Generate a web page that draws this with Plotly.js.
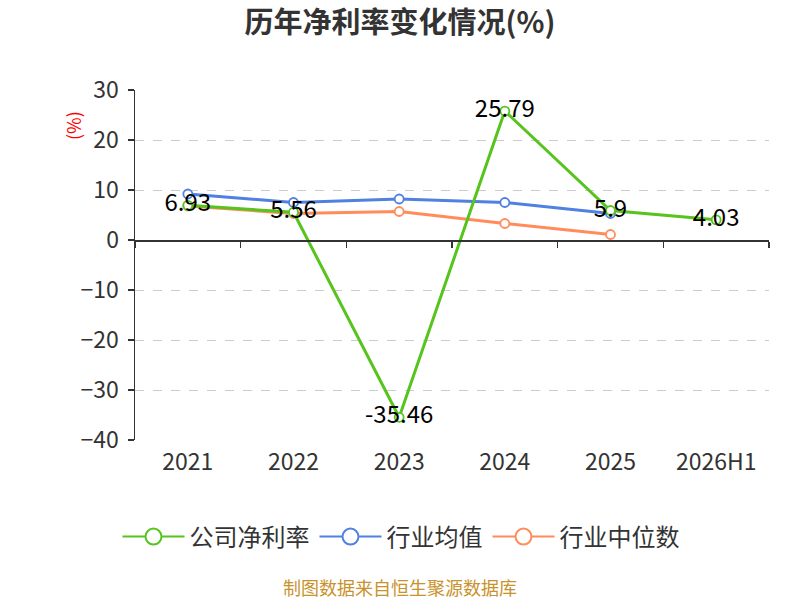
<!DOCTYPE html>
<html>
<head>
<meta charset="utf-8">
<script src="https://cdn.plot.ly/plotly-3.0.1.min.js"></script>
<style>
  html, body { margin: 0; padding: 0; background: #fff; }
  #chart { width: 800px; height: 600px; }
</style>
</head>
<body>
<div id="chart"></div>
<script>
// data
const years = ['2021', '2022', '2023', '2024', '2025', '2026H1'];
const companyMargin = [6.93, 5.56, -35.46, 25.79, 5.9, 4.03];
const industryMean = [9.2, 7.5, 8.2, 7.5, 5.3, null];
const industryMedian = [6.8, 5.3, 5.7, 3.3, 1.1, null];
const seriesNames = ['公司净利率', '行业均值', '行业中位数'];

const FONT = '"Noto Sans CJK SC", "Noto Sans", sans-serif';
const COLORS = { green: '#56c41d', blue: '#4f80e2', orange: '#ff8c5a' };

// plot area in pixels: x 135..769, y 90..440
const PLOT_L = 135, PLOT_W = 634, PLOT_B = 440, PLOT_H = 350;
const px = x => (x - PLOT_L) / PLOT_W;
const py = y => (PLOT_B - y) / PLOT_H;

function lineTrace(name, y, color, withText) {
  const t = {
    x: years, y, name, type: 'scatter',
    mode: withText ? 'lines+markers+text' : 'lines+markers',
    line: { color, width: 3 },
    marker: { symbol: 'circle', size: 9, color: '#fff', line: { color, width: 1.8 } },
    cliponaxis: false, showlegend: false,
    hoverinfo: 'skip',
  };
  if (withText) {
    t.text = y.map(v => v == null ? '' : String(v));
    t.textposition = 'middle center';
    t.textfont = { size: 24, family: FONT, color: '#000' };
  }
  return t;
}

// legend-only entries so the legend symbol can be drawn larger than the chart markers
function legendTrace(name, color) {
  return {
    x: [null], y: [null], name, type: 'scatter', mode: 'lines+markers',
    line: { color, width: 2 },
    marker: { symbol: 'circle', size: 16, color: '#fff', line: { color, width: 2 } },
    hoverinfo: 'skip',
  };
}

const traces = [
  lineTrace(seriesNames[1], industryMean, COLORS.blue, false),
  lineTrace(seriesNames[2], industryMedian, COLORS.orange, false),
  lineTrace(seriesNames[0], companyMargin, COLORS.green, true),
  legendTrace(seriesNames[0], COLORS.green),
  legendTrace(seriesNames[1], COLORS.blue),
  legendTrace(seriesNames[2], COLORS.orange),
  // carrier for the axis line drawn at y = 0
  { x: years, y: years.map(() => 0), xaxis: 'x2', type: 'scatter', mode: 'lines',
    line: { width: 0 }, opacity: 0, showlegend: false, hoverinfo: 'skip' },
];

const yMin = -40, yMax = 30;
const zeroPos = (0 - yMin) / (yMax - yMin);

const layout = {
  width: 800, height: 600,
  paper_bgcolor: '#fff', plot_bgcolor: '#fff',
  font: { family: FONT, color: '#333' },
  margin: { l: 135, r: 31, t: 90, b: 160 },
  title: {
    text: '<b>历年净利率变化情况(%)</b>',
    font: { size: 29, family: FONT, color: '#333' },
    x: 0.5, xanchor: 'center', yref: 'container', y: 1 - 23 / 600, yanchor: 'middle',
  },
  xaxis: {
    type: 'category', categoryarray: years, range: [-0.5, 5.5],
    showline: false, showgrid: false, zeroline: false, ticks: '',
    tickfont: { size: 23, color: '#333' }, ticklabelstandoff: 6,
  },
  xaxis2: {
    type: 'category', categoryarray: years, range: [-0.5, 5.5],
    overlaying: 'x', anchor: 'free', position: zeroPos,
    showline: true, linecolor: '#333', linewidth: 1.5,
    ticks: 'outside', tickson: 'boundaries', ticklen: 6, tickcolor: '#333', tickwidth: 1.5,
    showticklabels: false, showgrid: false, zeroline: false,
  },
  yaxis: {
    range: [yMin, yMax], tickvals: [30, 20, 10, 0, -10, -20, -30, -40],
    showline: true, linecolor: '#333', linewidth: 1.5,
    ticks: 'outside', ticklen: 6, tickcolor: '#333', tickwidth: 1.5,
    tickfont: { size: 23, color: '#333' }, ticklabelstandoff: 4,
    showgrid: true, gridcolor: '#cccccc', gridwidth: 1, griddash: 'dash',
    zeroline: false,
  },
  showlegend: true,
  legend: {
    orientation: 'h', x: px(401), xanchor: 'center', y: py(537), yanchor: 'middle',
    font: { size: 24, family: FONT, color: '#333' },
    itemwidth: 62, bgcolor: 'rgba(0,0,0,0)', traceorder: 'normal',
  },
  annotations: [
    {
      text: '(%)', xref: 'paper', yref: 'paper',
      x: px(73), y: py(126), xanchor: 'center', yanchor: 'middle',
      textangle: -90, showarrow: false,
      font: { size: 18, family: FONT, color: '#ff0000' },
    },
    {
      text: '制图数据来自恒生聚源数据库', xref: 'paper', yref: 'paper',
      x: px(400), y: py(587), xanchor: 'center', yanchor: 'middle',
      showarrow: false, borderpad: 0,
      font: { size: 18, family: FONT, color: '#c8922c' },
    },
  ],
};

Plotly.newPlot('chart', traces, layout, { displayModeBar: false, staticPlot: true });
</script>
</body>
</html>
